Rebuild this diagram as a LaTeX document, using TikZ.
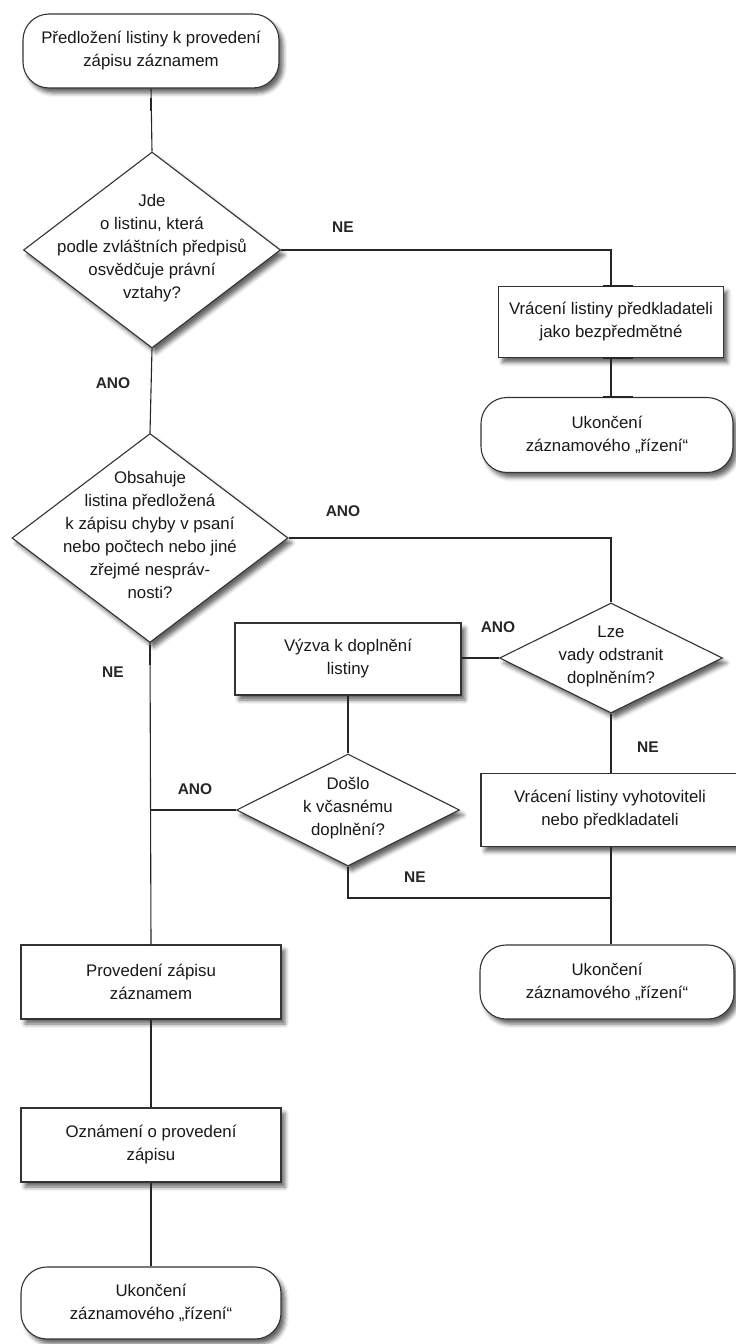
\documentclass[tikz,border=0pt]{standalone}
\usepackage{fontspec}
\setmainfont{Liberation Sans}
\usetikzlibrary{shapes.geometric,shadows.blur,calc}
\begin{document}
\begin{tikzpicture}[x=1pt,y=-1pt,
  lnk/.style={line width=1.1pt,draw=black!85},
  bar/.style={line width=2.6pt,draw=black!85},
  shd/.style={blur shadow={shadow xshift=4pt,shadow yshift=-5pt,shadow blur radius=4pt,shadow opacity=60}},
  boxn/.style={draw=black!80,line width=1.1pt,fill=white,shd,rectangle,inner sep=0pt,align=center,font=\fontsize{16.8}{23}\selectfont,text=black!90},
  termn/.style={boxn,rounded corners=26pt},
  decn/.style={draw=black!80,line width=1.1pt,fill=white,shd,diamond,inner sep=0pt},
  txt/.style={align=center,inner sep=0pt,font=\fontsize{16.8}{23}\selectfont,text=black!90},
  lab/.style={inner sep=0pt,font=\fontsize{15.5}{18}\selectfont\bfseries,text=black!85}
]
\useasboundingbox (0,0) rectangle (736,1344);

% main column
\node[termn,minimum width=256pt,minimum height=74pt] (start) at (151,51) {Předložení listiny k provedení\\zápisu záznamem};
\node[decn,minimum width=257pt,minimum height=196pt] (d1) at (152,250) {};
\node[txt] (d1t) at (152,248) {Jde\\o listinu, která\\podle zvláštních předpisů\\osvědčuje právní\\vztahy?};
\node[decn,minimum width=276pt,minimum height=209pt] (d2) at (150,538) {};
\node[txt] (d2t) at (150,535) {Obsahuje\\listina předložená\\k zápisu chyby v psaní\\nebo počtech nebo jiné\\zřejmé nespráv-\\nosti?};
\node[boxn,minimum width=260pt,minimum height=74pt] (b4) at (151,982) {Provedení zápisu\\záznamem};
\node[boxn,minimum width=260pt,minimum height=74pt] (b5) at (151,1145) {Oznámení o provedení\\zápisu};
\node[termn,minimum width=260pt,minimum height=72pt] (t3) at (151,1303) {Ukončení\\záznamového „řízení“};

% right column
\node[boxn,minimum width=225pt,minimum height=71pt] (b1) at (611,322) {Vrácení listiny předkladateli\\jako bezpředmětné};
\node[termn,minimum width=252pt,minimum height=75pt] (t1) at (607,435) {Ukončení\\záznamového „řízení“};
\node[decn,minimum width=223pt,minimum height=110pt] (d3) at (611,658) {};
\node[txt] (d3t) at (611,656) {Lze\\vady odstranit\\doplněním?};
\node[boxn,minimum width=226pt,minimum height=72pt] (b2) at (348,659) {Výzva k doplnění\\listiny};
\node[decn,minimum width=223pt,minimum height=112pt] (d4) at (348,810) {};
\node[txt] (d4t) at (348,808) {Došlo\\k včasnému\\doplnění?};
\node[boxn,minimum width=258pt,minimum height=73pt] (b3) at (610,810) {Vrácení listiny vyhotoviteli\\nebo předkladateli};
\node[termn,minimum width=254pt,minimum height=74pt] (t2) at (607,982) {Ukončení\\záznamového „řízení“};

\coordinate (j1) at (611,898);

% connectors
\draw[lnk] (start.south) -- (d1.north);
\draw[lnk] (d1.south) -- (d2.north);
\draw[lnk] (d2.south) -- (b4.north);
\draw[lnk] (b4.south) -- (b5.north);
\draw[lnk] (b5.south) -- (t3.north);
\draw[lnk] (d1.east) -| (b1.north);
\draw[lnk] (b1.south) -- (b1.south |- t1.north);
\draw[lnk] (d2.east) -| (d3.north);
\draw[lnk] (d3.west) -- (d3.west -| b2.east);
\draw[lnk] (b2.south) -- (d4.north);
\draw[bar] (d4.west) -- (d4.west -| d2.south);
\draw[lnk] (d3.south) -- (d3.south |- b3.north);
\draw[lnk] (b3.south -| d3.south) -- (d3.south |- t2.north);
\draw[lnk] (d4.south) |- (j1);

% thick segments on connectors
\draw[bar] ([xshift=-8pt]b1.north) -- ([xshift=22pt]b1.north);
\draw[bar] ([xshift=-8pt]b1.south) -- ([xshift=22pt]b1.south);
\draw[bar] ($(b1.south |- t1.north)+(-8,0)$) -- ($(b1.south |- t1.north)+(22,0)$);
\draw[bar] ($(d4.south |- j1)+(50,0)$) -- ($(d4.south |- j1)+(99,0)$);
\draw[bar] (d3.west -| b2.east) -- ($(d3.west -| b2.east)+(21,0)$);
\draw[bar] (d2.east) -- ($(d2.east)+(22,0)$);
\draw[bar] ($(d2.south)+(0,2)$) -- ($(d2.south)+(0,22)$);
\draw[bar] ($(start.south)+(0,9)$) -- ($(start.south)+(0,22)$);
\draw[bar] ($(b4.south)+(0,2)$) -- ($(b4.south)+(0,24)$);
\draw[bar] ($(b5.south)+(0,2)$) -- ($(b5.south)+(0,24)$);

% labels
\node[lab] (l1) at (343,227) {NE};
\node[lab] (l2) at (113,383) {ANO};
\node[lab] (l3) at (343,511) {ANO};
\node[lab] (l4) at (498,627) {ANO};
\node[lab] (l5) at (113,672) {NE};
\node[lab] (l6) at (195,789) {ANO};
\node[lab] (l7) at (415,877) {NE};
\node[lab] (l8) at (648,747) {NE};
\end{tikzpicture}
\end{document}
